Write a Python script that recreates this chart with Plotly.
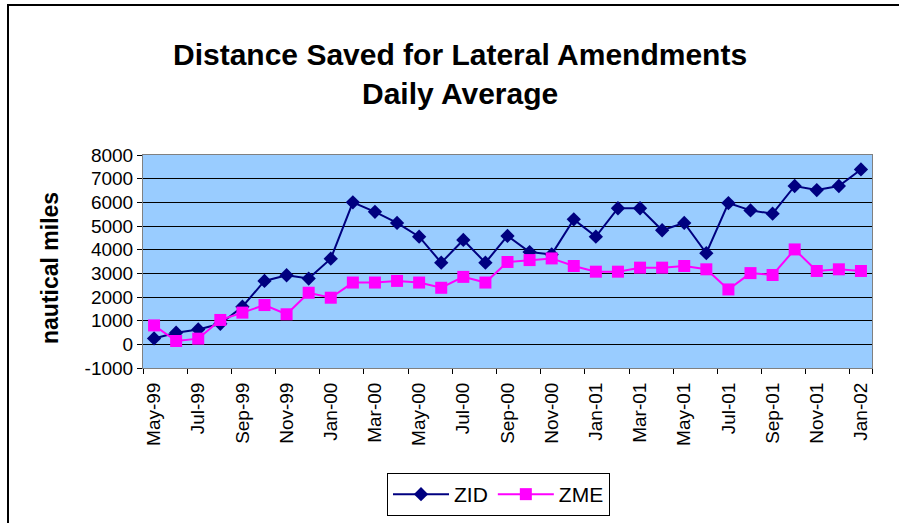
import plotly.graph_objects as go

# monthly values, May-99 .. Jan-02
months = ["May-99", "Jun-99", "Jul-99", "Aug-99", "Sep-99", "Oct-99", "Nov-99", "Dec-99",
          "Jan-00", "Feb-00", "Mar-00", "Apr-00", "May-00", "Jun-00", "Jul-00", "Aug-00",
          "Sep-00", "Oct-00", "Nov-00", "Dec-00", "Jan-01", "Feb-01", "Mar-01", "Apr-01",
          "May-01", "Jun-01", "Jul-01", "Aug-01", "Sep-01", "Oct-01", "Nov-01", "Dec-01",
          "Jan-02"]
zid = [250, 490, 630, 870, 1590, 2680, 2920, 2780, 3620, 6000, 5600, 5130, 4550, 3450,
       4410, 3450, 4580, 3900, 3800, 5280, 4550, 5750, 5750, 4820, 5130, 3850, 5970, 5660,
       5520, 6690, 6520, 6690, 7390]
zme = [800, 140, 240, 1030, 1340, 1660, 1270, 2180, 1970, 2610, 2610, 2680, 2610, 2390,
       2850, 2610, 3480, 3560, 3630, 3310, 3070, 3070, 3240, 3240, 3310, 3170, 2320, 3010,
       2930, 4010, 3100, 3170, 3100]
yticks = [-1000, 0, 1000, 2000, 3000, 4000, 5000, 6000, 7000, 8000]

W, H = 899, 523
L, R, T, B = 143, 872, 155, 368
font = "Liberation Sans, Arial, sans-serif"

idx = list(range(len(months)))


def px(x):
    return (x - L) / (R - L)


def py(y):
    return (B - y) / (B - T)


fig = go.Figure()
fig.add_trace(go.Scatter(
    x=idx, y=zid, name="ZID", mode="lines+markers",
    line=dict(color="#000080", width=2),
    marker=dict(symbol="diamond", size=11, color="#000080"),
))
fig.add_trace(go.Scatter(
    x=idx, y=zme, name="ZME", mode="lines+markers",
    line=dict(color="#FF00FF", width=2),
    marker=dict(symbol="square", size=12, color="#FF00FF"),
))
# dummy trace on xaxis2 so the boundary tick marks render
fig.add_trace(go.Scatter(x=[0], y=[None], xaxis="x2", showlegend=False, hoverinfo="skip"))

fig.update_layout(
    width=W, height=H,
    margin=dict(l=L, r=W - R, t=T, b=H - B, autoexpand=False),
    paper_bgcolor="white",
    plot_bgcolor="#99CCFF",
    font=dict(family=font, color="black", size=19),
    showlegend=True,
    legend=dict(
        orientation="h", x=px(387), y=py(473), xanchor="left", yanchor="top",
        bordercolor="black", borderwidth=1, bgcolor="white",
        font=dict(size=21, family=font), itemwidth=56,
    ),
    xaxis=dict(
        range=[-0.5, len(months) - 0.5],
        tickvals=idx[::2], ticktext=months[::2],
        tickangle=-90, ticks="", showgrid=False, zeroline=False,
        showline=True, linecolor="#808080", linewidth=1, mirror=True,
        tickfont=dict(size=19), ticklabelstandoff=6,
    ),
    xaxis2=dict(
        overlaying="x", range=[-0.5, len(months) - 0.5],
        tickvals=[i - 0.5 for i in idx[::2]] + [len(months) - 0.5],
        showticklabels=False, ticks="outside", ticklen=5, tickcolor="black",
        showgrid=False, zeroline=False, side="bottom",
    ),
    yaxis=dict(
        range=[-1000, 8000], tickvals=yticks, ticktext=[str(v) for v in yticks],
        ticks="outside", ticklen=5, tickcolor="black",
        showgrid=True, gridcolor="black", gridwidth=1,
        zeroline=False, showline=True, linecolor="#808080", mirror=True,
        tickfont=dict(size=19),
    ),
    annotations=[
        dict(text="<b>Distance Saved for Lateral Amendments</b>", xref="paper", yref="paper",
             x=px(460), y=py(54), xanchor="center", yanchor="middle", showarrow=False,
             font=dict(size=30, family=font)),
        dict(text="<b>Daily Average</b>", xref="paper", yref="paper",
             x=px(460), y=py(93), xanchor="center", yanchor="middle", showarrow=False,
             font=dict(size=30, family=font)),
        dict(text="<b>nautical miles</b>", xref="paper", yref="paper",
             x=px(50), y=py(268), xanchor="center", yanchor="middle", showarrow=False,
             textangle=-90, font=dict(size=23, family=font)),
    ],
    shapes=[
        dict(type="rect", xref="paper", yref="paper", x0=px(8), x1=px(910), y0=py(540), y1=py(5),
             line=dict(color="black", width=2), fillcolor="rgba(0,0,0,0)", layer="below"),
    ],
)

fig.write_html("out.html", config={"displayModeBar": False},
               post_script="document.body.style.margin='0px';")
